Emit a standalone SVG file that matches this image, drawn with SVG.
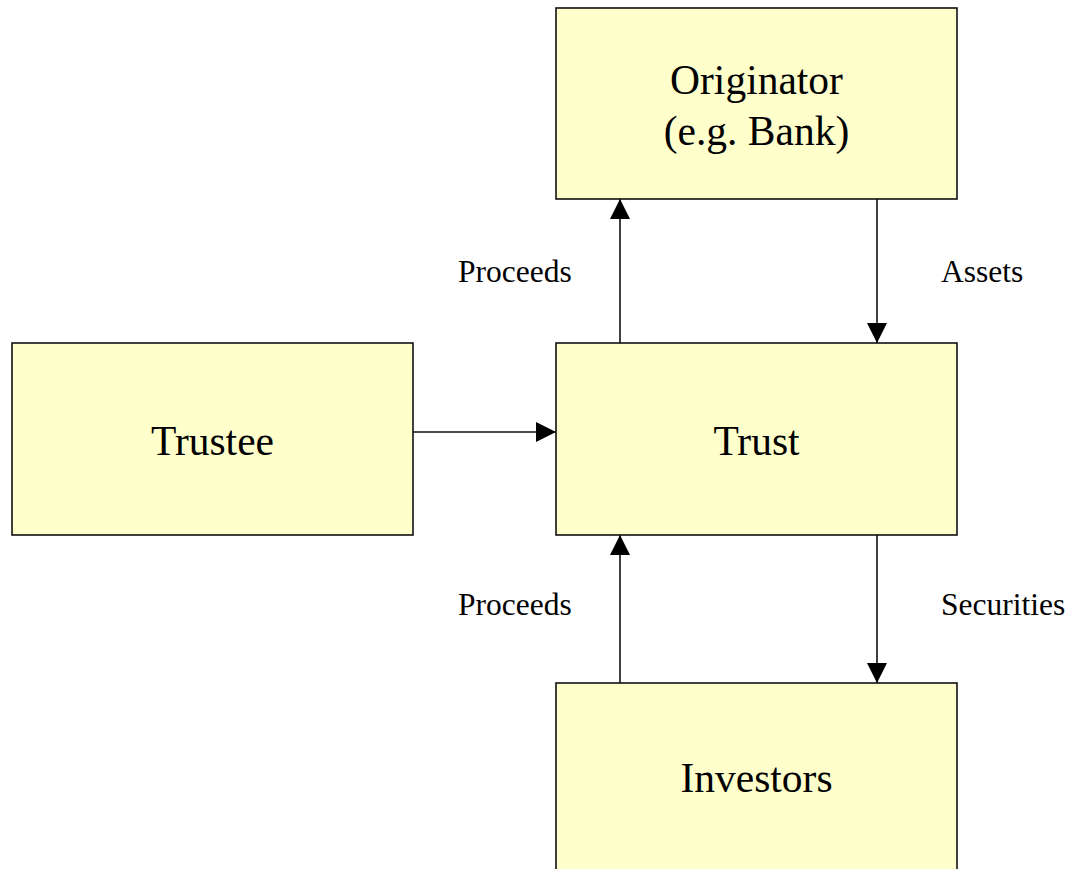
<svg xmlns="http://www.w3.org/2000/svg" width="1071" height="869" viewBox="0 0 1071 869">
<style>
.box{fill:#FFFFCC;stroke:#111;stroke-width:1.6}
.nt{font-family:"Liberation Serif","Times New Roman",serif;font-size:41.5px;fill:#000;text-anchor:middle}
.lb{font-family:"Liberation Serif","Times New Roman",serif;font-size:31.5px;fill:#000}
.cn{stroke:#111;stroke-width:1.6;fill:none;marker-end:url(#ah)}
</style>
<defs>
<marker id="ah" markerUnits="userSpaceOnUse" markerWidth="20" markerHeight="20" viewBox="0 0 20 20" refX="20" refY="10" orient="auto">
<path d="M0,0 L20,10 L0,20 Z" fill="#000"/>
</marker>
</defs>
<rect width="1071" height="869" fill="#fff"/>
<g id="connectors">
<line class="cn" x1="620" y1="343" x2="620" y2="199"/>
<line class="cn" x1="877" y1="199" x2="877" y2="343"/>
<line class="cn" x1="413" y1="432" x2="556" y2="432"/>
<line class="cn" x1="620" y1="683" x2="620" y2="535"/>
<line class="cn" x1="877" y1="535" x2="877" y2="683"/>
<text class="lb" x="458" y="282">Proceeds</text>
<text class="lb" x="941" y="282">Assets</text>
<text class="lb" x="458" y="615">Proceeds</text>
<text class="lb" x="941" y="615">Securities</text>
</g>
<g id="originator">
<rect class="box" x="556" y="8" width="401" height="191"/>
<text class="nt" x="756.5" y="94">Originator</text>
<text class="nt" x="756.5" y="145">(e.g. Bank)</text>
</g>
<g id="trustee">
<rect class="box" x="12" y="343" width="401" height="192"/>
<text class="nt" x="212.5" y="455">Trustee</text>
</g>
<g id="trust">
<rect class="box" x="556" y="343" width="401" height="192"/>
<text class="nt" x="756.5" y="455">Trust</text>
</g>
<g id="investors">
<rect class="box" x="556" y="683" width="401" height="200"/>
<text class="nt" x="756.5" y="792">Investors</text>
</g>
</svg>
